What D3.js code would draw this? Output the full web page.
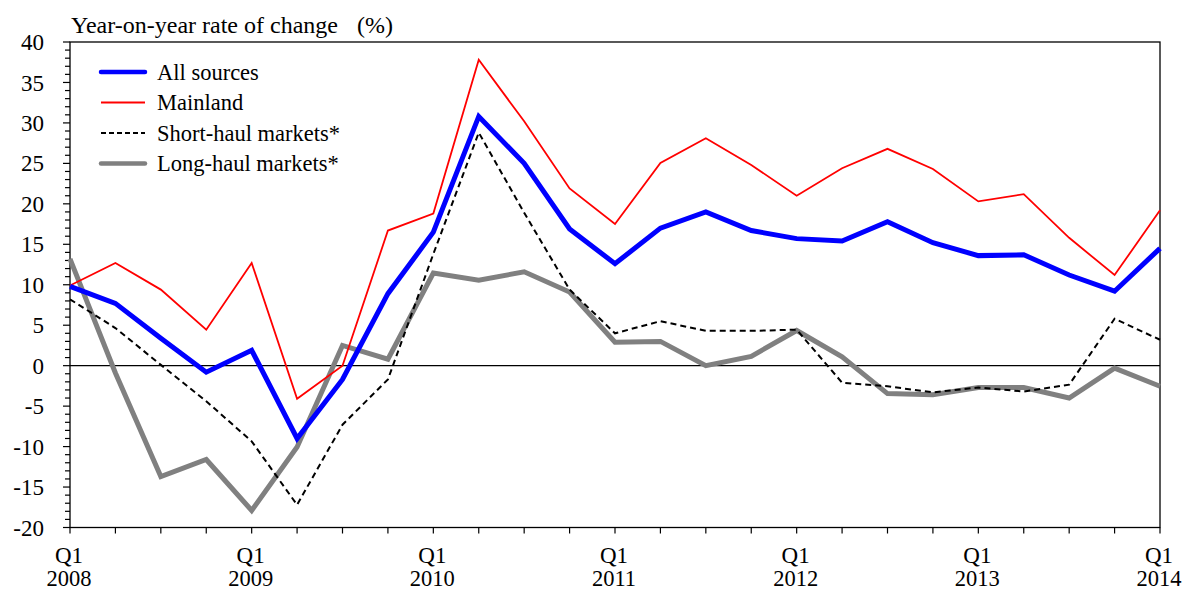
<!DOCTYPE html>
<html>
<head>
<meta charset="utf-8">
<script src="https://cdn.jsdelivr.net/npm/d3@7"></script>
<style>
  body { margin: 0; background: #fff; }
  svg { display: block; }
</style>
</head>
<body>
<svg id="chart" width="1187" height="591" font-family="'Liberation Serif', 'Times New Roman', Tinos, 'DejaVu Serif', serif"></svg>
<script>
// Quarters Q1 2008 .. Q1 2014
const quarters = ["2008Q1","2008Q2","2008Q3","2008Q4","2009Q1","2009Q2","2009Q3","2009Q4",
  "2010Q1","2010Q2","2010Q3","2010Q4","2011Q1","2011Q2","2011Q3","2011Q4",
  "2012Q1","2012Q2","2012Q3","2012Q4","2013Q1","2013Q2","2013Q3","2013Q4","2014Q1"];
const allSources = [9.8, 7.7, 3.4, -0.8, 1.9, -9.0, -1.7, 8.9, 16.5, 30.8, 25.0, 16.9, 12.6, 17.0, 19.0, 16.7, 15.7, 15.4, 17.8, 15.2, 13.6, 13.7, 11.2, 9.2, 14.5];
const mainland   = [9.9, 12.7, 9.4, 4.45, 12.7, -4.1, 0.0, 16.7, 18.8, 37.8, 30.2, 21.9, 17.5, 25.05, 28.1, 24.8, 21.0, 24.4, 26.8, 24.3, 20.3, 21.2, 15.8, 11.2, 19.2];
const shortHaul  = [8.2, 4.65, 0.1, -4.4, -9.35, -17.2, -7.3, -1.7, 13.8, 28.8, 18.9, 9.4, 4.0, 5.5, 4.3, 4.3, 4.45, -2.1, -2.55, -3.3, -2.7, -3.2, -2.35, 5.8, 3.2];
const longHaul   = [13.2, -0.9, -13.7, -11.6, -17.9, -10.05, 2.5, 0.8, 11.45, 10.55, 11.6, 9.1, 2.9, 3.0, 0.0, 1.15, 4.35, 1.1, -3.45, -3.6, -2.7, -2.7, -4.0, -0.3, -2.55];
const yTicks = [40, 35, 30, 25, 20, 15, 10, 5, 0, -5, -10, -15, -20];
const xLabelQuarters = ["2008Q1","2009Q1","2010Q1","2011Q1","2012Q1","2013Q1","2014Q1"];
const titleMain = "Year-on-year rate of change";
const titleUnit = "(%)";

const seriesList = [
  {name: "All sources", values: allSources, color: "#0000ff", width: 5, dash: null},
  {name: "Mainland", values: mainland, color: "#ff0000", width: 1.8, dash: null},
  {name: "Short-haul markets*", values: shortHaul, color: "#000000", width: 2, dash: "6,4"},
  {name: "Long-haul markets*", values: longHaul, color: "#808080", width: 5, dash: null}
];
const drawOrder = [3, 2, 1, 0];

const svg = d3.select("#chart");
const pL = 70, pR = 1160, pT = 42, pB = 527.5;
const FS = 23;

const x = d3.scalePoint().domain(quarters).range([pL, pR]);
const y = d3.scaleLinear().domain([-20, 40]).range([pB, pT]);

// Frame
svg.append("rect").attr("x", pL).attr("y", pT)
  .attr("width", pR - pL).attr("height", pB - pT)
  .attr("fill", "none").attr("stroke", "#000").attr("stroke-width", 1.3);

// Y axis ticks (minor every 1)
const yMinor = d3.range(-20, 41, 1);
svg.append("g").selectAll("line").data(yMinor).join("line")
  .attr("x1", d => d % 5 === 0 ? pL - 7 : pL - 5)
  .attr("x2", pL)
  .attr("y1", d => y(d)).attr("y2", d => y(d))
  .attr("stroke", "#000").attr("stroke-width", 1.2);

// Y labels
svg.append("g").selectAll("text").data(yTicks).join("text")
  .attr("x", 44).attr("y", d => y(d))
  .attr("dy", "0.35em")
  .attr("text-anchor", "end")
  .attr("font-size", FS)
  .text(d => d);

// X ticks
svg.append("g").selectAll("line").data(quarters).join("line")
  .attr("x1", d => x(d)).attr("x2", d => x(d))
  .attr("y1", pB).attr("y2", pB + 6)
  .attr("stroke", "#000").attr("stroke-width", 1.2);

// X labels
const xl = svg.append("g").selectAll("g").data(xLabelQuarters).join("g");
xl.append("text").attr("x", d => x(d) - 1).attr("y", 563)
  .attr("text-anchor", "middle").attr("font-size", FS).text("Q1");
xl.append("text").attr("x", d => x(d) - 1).attr("y", 586)
  .attr("text-anchor", "middle").attr("font-size", 22.5).text(d => d.slice(0, 4));

// zero line
svg.append("line").attr("x1", pL).attr("x2", pR)
  .attr("y1", y(0)).attr("y2", y(0))
  .attr("stroke", "#000").attr("stroke-width", 1.2);

// Lines
const line = d3.line().x((d, i) => x(quarters[i])).y(d => y(d));
drawOrder.forEach(k => {
  const s = seriesList[k];
  svg.append("path").datum(s.values)
    .attr("d", line)
    .attr("fill", "none")
    .attr("stroke", s.color)
    .attr("stroke-width", s.width)
    .attr("stroke-linejoin", "miter")
    .attr("stroke-dasharray", s.dash);
});

// Title
svg.append("text").attr("x", 71).attr("y", 33)
  .attr("font-size", 24).text(titleMain);
svg.append("text").attr("x", 357).attr("y", 33)
  .attr("font-size", 24).text(titleUnit);

// Legend
const legY = [72, 102.5, 133, 163.5];
seriesList.forEach((s, i) => {
  svg.append("line").attr("x1", 101).attr("x2", 145)
    .attr("y1", legY[i]).attr("y2", legY[i])
    .attr("stroke", s.color)
    .attr("stroke-width", s.width === 5 ? 4.5 : 2)
    .attr("stroke-linecap", s.width === 5 ? "round" : "butt")
    .attr("stroke-dasharray", s.dash ? "5,3" : null);
  svg.append("text").attr("x", 157).attr("y", legY[i])
    .attr("dy", "0.35em").attr("font-size", 22.5).text(s.name);
});
</script>
</body>
</html>
